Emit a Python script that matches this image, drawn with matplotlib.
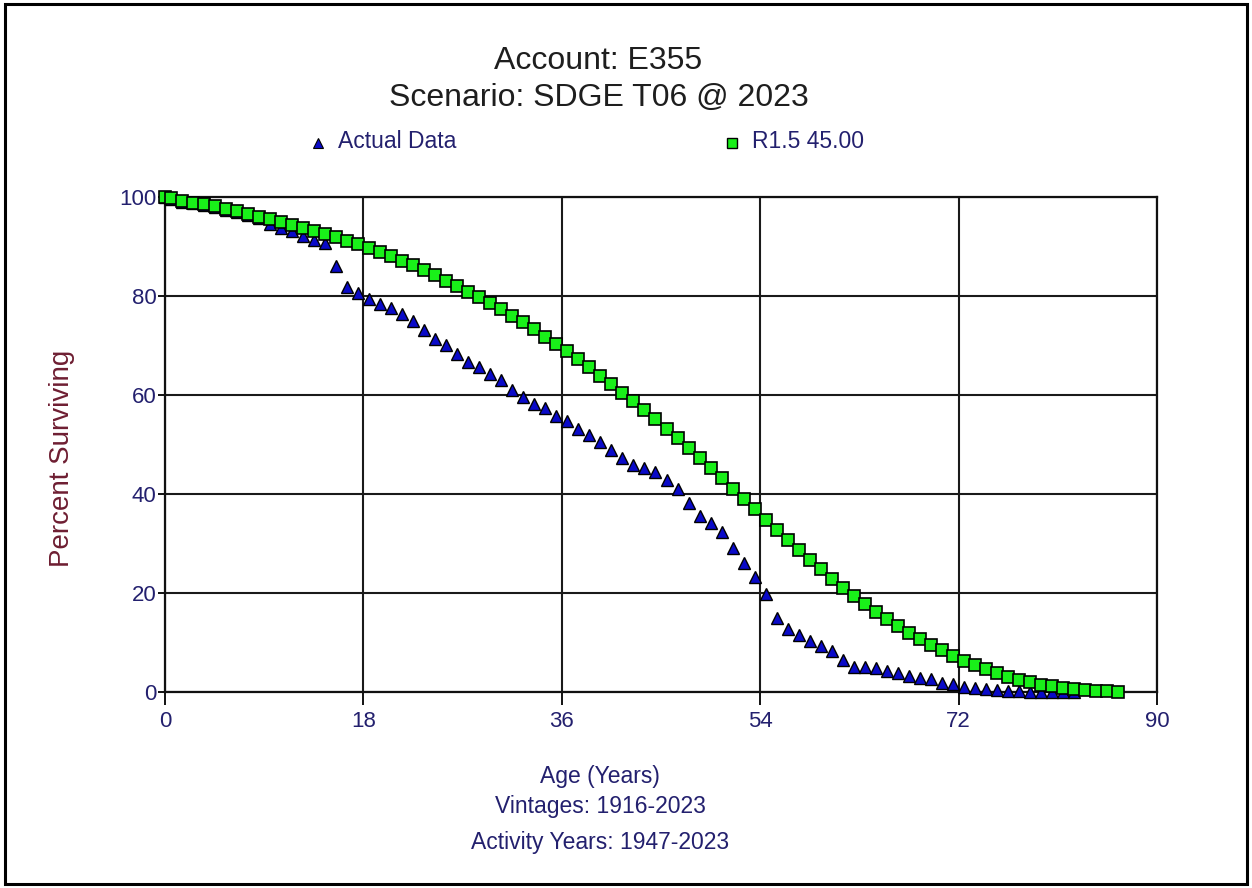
import matplotlib
matplotlib.use("Agg")
import matplotlib.pyplot as plt
from matplotlib.lines import Line2D
from matplotlib.patches import Rectangle

plt.rcParams['font.family'] = ['Liberation Sans', 'DejaVu Sans']

# Survivor curve data (age in years, percent surviving)
actual_ages = [0, 0.5, 1.5, 2.5, 3.5, 4.5, 5.5, 6.5, 7.5, 8.5, 9.5,
               10.5, 11.5, 12.5, 13.5, 14.5, 15.5, 16.5, 17.5, 18.5, 19.5,
               20.5, 21.5, 22.5, 23.5, 24.5, 25.5, 26.5, 27.5, 28.5, 29.5,
               30.5, 31.5, 32.5, 33.5, 34.5, 35.5, 36.5, 37.5, 38.5, 39.5,
               40.5, 41.5, 42.5, 43.5, 44.5, 45.5, 46.5, 47.5, 48.5, 49.5,
               50.5, 51.5, 52.5, 53.5, 54.5, 55.5, 56.5, 57.5, 58.5, 59.5,
               60.5, 61.5, 62.5, 63.5, 64.5, 65.5, 66.5, 67.5, 68.5, 69.5,
               70.5, 71.5, 72.5, 73.5, 74.5, 75.5, 76.5, 77.5, 78.5, 79.5,
               80.5, 81.5, 82.5]
actual_pct = [100.0, 99.6, 99.0, 98.7, 98.4, 97.9, 97.4, 96.9, 96.3, 95.7, 94.6,
              93.8, 93.2, 92.1, 91.4, 90.8, 86.1, 81.8, 80.6, 79.3, 78.4,
              77.6, 76.4, 75.0, 73.1, 71.4, 70.1, 68.3, 66.7, 65.6, 64.2,
              63.0, 61.0, 59.5, 58.2, 57.3, 55.8, 54.8, 53.1, 51.9, 50.6,
              48.9, 47.2, 45.9, 45.2, 44.4, 42.8, 41.1, 38.1, 35.6, 34.1,
              32.4, 29.0, 26.1, 23.3, 19.8, 15.0, 12.8, 11.5, 10.3, 9.3,
              8.3, 6.5, 5.1, 5.1, 4.8, 4.3, 3.8, 3.3, 2.9, 2.6,
              1.8, 1.6, 1.1, 0.8, 0.6, 0.5, 0.3, 0.2, 0.1, 0.1,
              0.0, 0.0, 0.0]

curve_ages = [0, 0.5, 1.5, 2.5, 3.5, 4.5, 5.5, 6.5, 7.5, 8.5, 9.5,
              10.5, 11.5, 12.5, 13.5, 14.5, 15.5, 16.5, 17.5, 18.5, 19.5,
              20.5, 21.5, 22.5, 23.5, 24.5, 25.5, 26.5, 27.5, 28.5, 29.5,
              30.5, 31.5, 32.5, 33.5, 34.5, 35.5, 36.5, 37.5, 38.5, 39.5,
              40.5, 41.5, 42.5, 43.5, 44.5, 45.5, 46.5, 47.5, 48.5, 49.5,
              50.5, 51.5, 52.5, 53.5, 54.5, 55.5, 56.5, 57.5, 58.5, 59.5,
              60.5, 61.5, 62.5, 63.5, 64.5, 65.5, 66.5, 67.5, 68.5, 69.5,
              70.5, 71.5, 72.5, 73.5, 74.5, 75.5, 76.5, 77.5, 78.5, 79.5,
              80.5, 81.5, 82.5, 83.5, 84.5, 85.5, 86.5]
curve_pct = [100.0, 99.7, 99.1, 98.8, 98.5, 98.1, 97.6, 97.1, 96.6, 96.0, 95.5,
             94.9, 94.4, 93.8, 93.2, 92.6, 91.9, 91.2, 90.5, 89.7, 88.9,
             88.0, 87.1, 86.2, 85.2, 84.2, 83.1, 82.1, 80.9, 79.8, 78.6,
             77.3, 76.0, 74.7, 73.3, 71.8, 70.3, 68.8, 67.2, 65.6, 63.9,
             62.2, 60.5, 58.7, 56.9, 55.1, 53.2, 51.3, 49.3, 47.3, 45.3,
             43.2, 41.1, 39.0, 36.9, 34.8, 32.8, 30.7, 28.7, 26.7, 24.8,
             22.9, 21.1, 19.4, 17.8, 16.2, 14.7, 13.3, 12.0, 10.7, 9.5,
             8.4, 7.3, 6.3, 5.4, 4.6, 3.8, 3.1, 2.5, 2.0, 1.5,
             1.2, 0.9, 0.6, 0.4, 0.3, 0.2, 0.1]

x_ticks = [0, 18, 36, 54, 72, 90]
y_ticks = [0, 20, 40, 60, 80, 100]

TEXT_DARK = '#1e1e1e'
TEXT_NAVY = '#23206e'
TEXT_RED = '#6e1e32'

fig = plt.figure(figsize=(12.52, 8.88), dpi=100)
ax = fig.add_axes([0.1318, 0.2207, 0.7923, 0.5575])

ax.plot(actual_ages, actual_pct, linestyle='none', marker='^', markersize=9,
        markerfacecolor='#0a0ac8', markeredgecolor='black', markeredgewidth=1.0,
        clip_on=False, zorder=3)
ax.plot(curve_ages, curve_pct, linestyle='none', marker='s', markersize=8.5,
        markerfacecolor='#19f019', markeredgecolor='black', markeredgewidth=1.2,
        clip_on=False, zorder=4)

ax.set_xlim(0, 90)
ax.set_ylim(0, 100)
ax.set_xticks(x_ticks)
ax.set_yticks(y_ticks)
ax.grid(True, color='#1a1a1a', linewidth=1.5)
ax.set_axisbelow(True)
for sp in ax.spines.values():
    sp.set_color('#111111')
    sp.set_linewidth(1.6)
ax.tick_params(axis='x', length=9, width=1.4, color='#111111',
               labelsize=16, labelcolor=TEXT_NAVY, pad=5)
ax.tick_params(axis='y', length=5, width=1.4, color='#111111',
               labelsize=16, labelcolor=TEXT_NAVY, pad=1)

# titles and labels placed in figure coordinates
fig.text(0.478, 1 - 61 / 888, 'Account: E355', ha='center', va='center',
         fontsize=23, color=TEXT_DARK)
fig.text(0.478, 1 - 98 / 888, 'Scenario: SDGE T06 @ 2023', ha='center', va='center',
         fontsize=23, color=TEXT_DARK)

# legend row
fig.add_artist(Line2D([318 / 1252], [1 - 143 / 888], transform=fig.transFigure,
                      marker='^', markersize=7.5, markerfacecolor='#0a0ac8',
                      markeredgecolor='black', markeredgewidth=0.8, linestyle='none'))
fig.text(338 / 1252, 1 - 142 / 888, 'Actual Data', ha='left', va='center',
         fontsize=16.5, color=TEXT_NAVY)
fig.add_artist(Line2D([732 / 1252], [1 - 143 / 888], transform=fig.transFigure,
                      marker='s', markersize=7, markerfacecolor='#19f019',
                      markeredgecolor='black', markeredgewidth=1.0, linestyle='none'))
fig.text(752 / 1252, 1 - 142 / 888, 'R1.5 45.00', ha='left', va='center',
         fontsize=16.5, color=TEXT_NAVY)

fig.text(62 / 1252, 1 - 458 / 888, 'Percent Surviving', ha='center', va='center',
         rotation=90, fontsize=20, color=TEXT_RED)

fig.text(600 / 1252, 1 - 776 / 888, 'Age (Years)', ha='center', va='center',
         fontsize=16.5, color=TEXT_NAVY)
fig.text(600 / 1252, 1 - 806 / 888, 'Vintages: 1916-2023', ha='center', va='center',
         fontsize=16.5, color=TEXT_NAVY)
fig.text(600 / 1252, 1 - 842 / 888, 'Activity Years: 1947-2023', ha='center', va='center',
         fontsize=16.5, color=TEXT_NAVY)

# outer frame around the whole chart
fig.add_artist(Rectangle((4.5 / 1252, 4.5 / 888), 1242 / 1252, 879 / 888,
                         transform=fig.transFigure, fill=False,
                         edgecolor='black', linewidth=2.2))

fig.savefig('out.png', dpi=100)
plt.close(fig)
